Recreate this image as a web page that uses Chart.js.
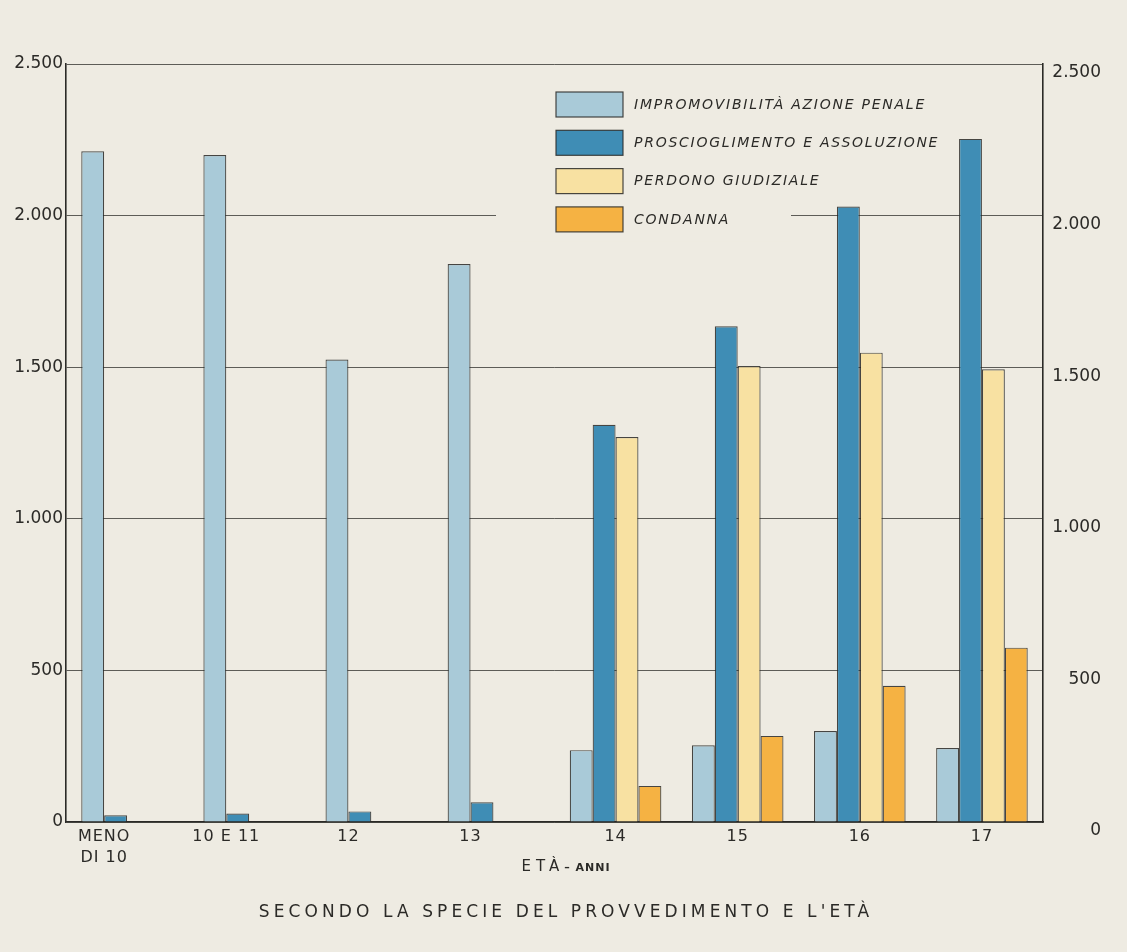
<!DOCTYPE html>
<html lang="it">
<head>
<meta charset="utf-8">
<title>Secondo la specie del provvedimento e l'età</title>
<script src="https://cdn.jsdelivr.net/npm/chart.js@4.4.1/dist/chart.umd.min.js"></script>
<style>
  html, body { margin: 0; padding: 0; background: #eeebe2; }
  #wrap { width: 1127px; height: 952px; }
</style>
</head>
<body>
<div id="wrap"><canvas id="chart" width="1127" height="952"></canvas></div>
<script>
// Values (scale 0-2.500), one array per series.
const categories = [['MENO', 'DI 10'], '10 E 11', '12', '13', '14', '15', '16', '17'];
const impromovibilita = [2212, 2200, 1525, 1840, 237, 253, 300, 244];
const proscioglimento = [22, 28, 35, 65, 1310, 1635, 2030, 2253];
const perdono = [null, null, null, null, 1270, 1504, 1548, 1493];
const condanna = [null, null, null, null, 119, 284, 449, 575];
const seriesLabels = [
  'IMPROMOVIBILITÀ AZIONE PENALE',
  'PROSCIOGLIMENTO E ASSOLUZIONE',
  'PERDONO GIUDIZIALE',
  'CONDANNA',
];
const yTicks = [0, 500, 1000, 1500, 2000, 2500];

const INK = '#2b2a27';
const PAPER = '#eeebe2';
const FONT = '"DejaVu Sans", sans-serif';

// 2500 -> "2.500", the way the original prints thousands
function fmt(v) {
  return String(v).replace(/\B(?=(\d{3})+(?!\d))/g, '.');
}

function barSet(label, data, color) {
  return {
    label,
    data,
    backgroundColor: color,
    borderColor: 'rgba(40,40,38,0.85)',
    borderWidth: 1.2,
    borderSkipped: 'bottom',
    categoryPercentage: 0.75,
    barPercentage: 1.0,
  };
}

const paperBg = {
  id: 'paperBg',
  beforeDraw(chart) {
    const { ctx, width, height } = chart;
    ctx.save();
    ctx.fillStyle = PAPER;
    ctx.fillRect(0, 0, width, height);
    ctx.restore();
  },
};

// legend sits inside the plot, over the gridlines, like the hand-lettered original
const insideLegend = {
  id: 'insideLegend',
  beforeDatasetsDraw(chart) {
    const { ctx, chartArea } = chart;
    const x0 = chartArea.left + 490;
    const y0 = chartArea.top + 28;
    const pitch = 38.3;
    ctx.save();
    ctx.fillStyle = PAPER;
    ctx.fillRect(chartArea.left + 430, y0 - 4, 295, pitch * 4);
    chart.data.datasets.forEach((ds, i) => {
      const y = y0 + i * pitch;
      ctx.fillStyle = ds.backgroundColor;
      ctx.fillRect(x0, y, 67, 25);
      ctx.strokeStyle = 'rgba(40,40,38,0.85)';
      ctx.lineWidth = 1.2;
      ctx.strokeRect(x0, y, 67, 25);
      ctx.fillStyle = INK;
      ctx.font = 'italic 14px ' + FONT;
      ctx.letterSpacing = '1.75px';
      ctx.textAlign = 'left';
      ctx.textBaseline = 'middle';
      ctx.fillText(ds.label, x0 + 78, y + 13);
    });
    ctx.restore();
  },
};

// category labels centred under the bars actually drawn, plus axis title and caption
const bottomText = {
  id: 'bottomText',
  afterDraw(chart) {
    const { ctx, chartArea } = chart;
    const metas = chart.getSortedVisibleDatasetMetas();
    ctx.save();
    ctx.fillStyle = INK;
    ctx.textAlign = 'center';
    ctx.textBaseline = 'middle';
    ctx.font = '16px ' + FONT;
    ctx.letterSpacing = '1px';
    chart.data.labels.forEach((lab, i) => {
      let lo = Infinity, hi = -Infinity;
      metas.forEach((m) => {
        const v = chart.data.datasets[m.index].data[i];
        if (v == null) return;
        const el = m.data[i];
        lo = Math.min(lo, el.x - el.width / 2);
        hi = Math.max(hi, el.x + el.width / 2);
      });
      const cx = (lo + hi) / 2;
      const lines = Array.isArray(lab) ? lab : [lab];
      lines.forEach((t, k) => ctx.fillText(t, cx, chartArea.bottom + 15 + k * 21));
    });

    // "ETÀ - ANNI", the second word in smaller capitals
    ctx.textAlign = 'left';
    ctx.font = '15px ' + FONT;
    ctx.letterSpacing = '5px';
    const w1 = ctx.measureText('ETÀ').width;
    ctx.font = 'bold 11px ' + FONT;
    ctx.letterSpacing = '1px';
    const w2 = ctx.measureText('– ANNI').width;
    const tx = 566 - (w1 + w2) / 2;
    ctx.font = '15px ' + FONT;
    ctx.letterSpacing = '5px';
    ctx.fillText('ETÀ', tx, 867);
    ctx.font = 'bold 11px ' + FONT;
    ctx.letterSpacing = '1px';
    ctx.fillText('– ANNI', tx + w1, 868);

    ctx.textAlign = 'center';
    ctx.font = '17px ' + FONT;
    ctx.letterSpacing = '4.1px';
    ctx.fillText("SECONDO LA SPECIE DEL PROVVEDIMENTO E L'ETÀ", 566, 913);
    ctx.restore();
  },
};

function setTicks(scale) {
  scale.ticks = yTicks.map((v) => ({ value: v }));
}

new Chart(document.getElementById('chart'), {
  type: 'bar',
  data: {
    labels: categories,
    datasets: [
      barSet(seriesLabels[0], impromovibilita, '#a9cad8'),
      barSet(seriesLabels[1], proscioglimento, '#3f8db5'),
      barSet(seriesLabels[2], perdono, '#f8e1a2'),
      barSet(seriesLabels[3], condanna, '#f5b243'),
    ],
  },
  options: {
    responsive: false,
    animation: false,
    devicePixelRatio: 1,
    layout: { padding: { top: 64, left: 0, right: 26, bottom: 0 } },
    plugins: {
      legend: { display: false },
      tooltip: { enabled: false },
    },
    scales: {
      x: {
        type: 'category',
        offset: true,
        grid: { display: false },
        border: { display: true, color: INK, width: 1.6 },
        ticks: { display: false },
        afterFit(scale) { scale.height = 130; },
      },
      y: {
        position: 'left',
        min: 0,
        max: 2500,
        afterBuildTicks: setTicks,
        grid: { color: '#5d5c57', lineWidth: 1, drawTicks: false },
        border: { display: true, color: INK, width: 1.6 },
        ticks: {
          color: INK,
          font: { family: FONT, size: 17 },
          padding: 3,
          callback: (v) => fmt(v),
        },
        afterFit(scale) { scale.width = 66; },
      },
      yRight: {
        position: 'right',
        min: 0,
        max: 2500,
        afterBuildTicks: setTicks,
        grid: { display: false, drawTicks: false },
        border: { display: true, color: INK, width: 1.6 },
        ticks: {
          color: INK,
          font: { family: FONT, size: 17 },
          padding: 10,
          crossAlign: 'far',
          labelOffset: 9,
          callback: (v) => fmt(v),
        },
        afterFit(scale) { scale.width = 58; },
      },
    },
  },
  plugins: [paperBg, insideLegend, bottomText],
});
</script>
</body>
</html>
